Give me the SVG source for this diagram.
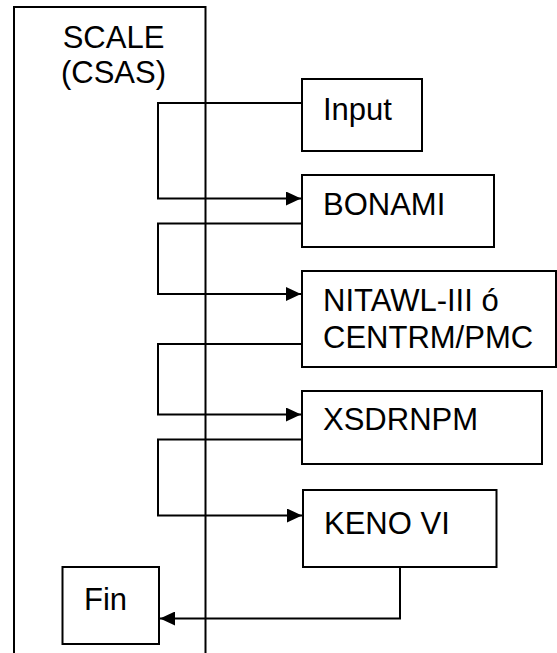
<svg xmlns="http://www.w3.org/2000/svg" width="557" height="653" viewBox="0 0 557 653">
<style>
.box{fill:#fff;stroke:#000;stroke-width:2}
.lane{fill:none;stroke:#000;stroke-width:2}
.lbl{font-family:"Liberation Sans",Arial,sans-serif;font-size:31px;fill:#000}
.conn{fill:none;stroke:#000;stroke-width:2}
</style>
<defs>
<marker id="ah" markerUnits="userSpaceOnUse" markerWidth="16" markerHeight="14" refX="15" refY="7" orient="auto">
<path d="M0,0 L15,7 L0,14 Z" fill="#000"/>
</marker>
</defs>
<g id="scale">
<rect class="lane" x="14" y="7" width="191.5" height="700"/>
<text class="lbl" x="113.5" y="47.5" text-anchor="middle">SCALE</text>
<text class="lbl" x="113.5" y="82.5" text-anchor="middle">(CSAS)</text>
</g>
<g id="connectors">
<path class="conn" d="M302,103 H158 V198.5 H301" marker-end="url(#ah)"/>
<path class="conn" d="M302,223.5 H158 V294 H301" marker-end="url(#ah)"/>
<path class="conn" d="M302,344 H158 V414.5 H301" marker-end="url(#ah)"/>
<path class="conn" d="M302,439.5 H158 V515.5 H302" marker-end="url(#ah)"/>
<path class="conn" d="M400,567 V618.5 H160" marker-end="url(#ah)"/>
</g>
<g id="input">
<rect class="box" x="302" y="79" width="120" height="72"/>
<text class="lbl" x="323" y="120">Input</text>
</g>
<g id="bonami">
<rect class="box" x="302" y="175" width="192" height="72"/>
<text class="lbl" x="323" y="215">BONAMI</text>
</g>
<g id="nitawl">
<rect class="box" x="302" y="271" width="254" height="96"/>
<text class="lbl" x="323" y="311">NITAWL-III ó</text>
<text class="lbl" x="323" y="348">CENTRM/PMC</text>
</g>
<g id="xsdrnpm">
<rect class="box" x="302" y="391" width="240" height="73"/>
<text class="lbl" x="323" y="430">XSDRNPM</text>
</g>
<g id="keno">
<rect class="box" x="303" y="490" width="193.5" height="77"/>
<text class="lbl" x="324" y="533.5">KENO VI</text>
</g>
<g id="fin">
<rect class="box" x="62.5" y="567" width="96.5" height="77"/>
<text class="lbl" x="84" y="610">Fin</text>
</g>
</svg>
